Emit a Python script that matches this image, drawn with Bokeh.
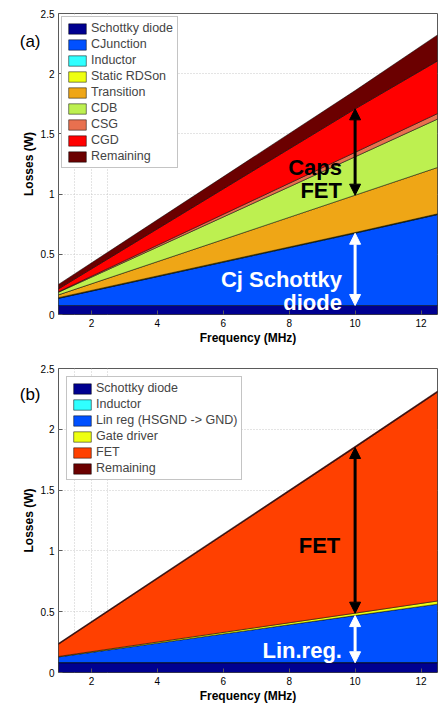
import numpy as np
from bokeh.plotting import figure
from bokeh.models import Range1d, FixedTicker, Label, Arrow, NormalHead, LinearAxis
from bokeh.layouts import column
from bokeh.embed import file_html
from bokeh.resources import INLINE

# ---------------- data ----------------
freq = [1, 10, 12.5]  # MHz

# panel (a): stacked losses (W), bottom to top
a_labels = ["Schottky diode", "CJunction", "Inductor", "Static RDSon", "Transition",
            "CDB", "CSG", "CGD", "Remaining"]
a_schottky = [0.075, 0.075, 0.075]
a_cjunction = [0.059, 0.600, 0.755]
a_inductor = [0.003, 0.003, 0.003]
a_rdson = [0.003, 0.003, 0.003]
a_transition = [0.023, 0.310, 0.385]
a_cdb = [0.022, 0.319, 0.402]
a_csg = [0.004, 0.037, 0.046]
a_cgd = [0.024, 0.361, 0.437]
a_remaining = [0.037, 0.152, 0.216]
a_colors = ["#000090", "#0050FF", "#30FFFF", "#EEFF10", "#EFA616",
            "#BDF050", "#E8704F", "#FF0000", "#6B0000"]

# panel (b)
b_labels = ["Schottky diode", "Inductor", "Lin reg (HSGND -> GND)", "Gate driver", "FET", "Remaining"]
b_schottky = [0.080, 0.080, 0.080]
b_inductor = [0.002, 0.002, 0.002]
b_linreg = [0.046, 0.386, 0.480]
b_gatedriver = [0.004, 0.020, 0.026]
b_fet = [0.100, 1.362, 1.717]
b_remaining = [0.008, 0.010, 0.010]
b_colors = ["#000090", "#30FFFF", "#0050FF", "#EEFF10", "#FF4000", "#6B0000"]

x_ticks = [2, 4, 6, 8, 10, 12]
y_ticks = [0, 0.5, 1, 1.5, 2, 2.5]
y_tick_labels = ["0", "0.5", "1", "1.5", "2", "2.5"]

FONT = "Liberation Sans"
FRAME = "#5a5a5a"


def make_fig(layers, labels, colors, frame_h, top_b, bottom_b, legend_margin):
    p = figure(frame_width=379, frame_height=frame_h, output_backend="svg",
               toolbar_location=None, x_range=Range1d(1, 12.5), y_range=Range1d(0, 2.5),
               min_border_left=58, min_border_right=1, min_border_top=top_b,
               min_border_bottom=bottom_b)
    p.outline_line_color = FRAME
    p.outline_line_width = 1
    p.background_fill_color = "white"
    p.border_fill_color = "white"

    x = np.array(freq, dtype=float)
    bottom = np.zeros_like(x)
    for vals, lab, col in zip(layers, labels, colors):
        top = bottom + np.array(vals, dtype=float)
        xs = list(x) + list(x[::-1])
        ys = list(top) + list(bottom[::-1])
        p.patch(xs, ys, fill_color=col, line_color="black", line_width=0.5,
                legend_label=lab)
        bottom = top

    p.xaxis.ticker = FixedTicker(ticks=x_ticks)
    p.yaxis.ticker = FixedTicker(ticks=y_ticks)
    p.yaxis.major_label_overrides = {t: l for t, l in zip(y_ticks, y_tick_labels)}
    for ax in (p.xaxis, p.yaxis):
        ax.axis_line_color = None
        ax.major_tick_in = 4
        ax.major_tick_out = 0
        ax.major_tick_line_color = FRAME
        ax.minor_tick_line_color = None
        ax.major_label_text_font = FONT
        ax.major_label_text_font_size = "10px"
        ax.major_label_text_color = "black"
        ax.axis_label_text_font = FONT
        ax.axis_label_text_font_size = "12px"
        ax.axis_label_text_font_style = "bold"
        ax.axis_label_text_color = "black"
    p.xaxis.major_label_standoff = 4
    p.xaxis.axis_label_standoff = 1
    p.yaxis.major_label_standoff = 4
    p.yaxis.axis_label_standoff = 2
    p.xaxis.axis_label = "Frequency (MHz)"
    p.yaxis.axis_label = "Losses (W)"

    for g in (p.xgrid, p.ygrid):
        g.ticker = FixedTicker(ticks=x_ticks if g is p.xgrid else y_ticks)
        g.grid_line_color = "#c8c8c8"
        g.grid_line_dash = "1 2"
        g.grid_line_width = 1

    lg = p.legend[0]
    lg.location = "top_left"
    lg.margin = legend_margin
    lg.padding = 4
    lg.spacing = 2
    lg.glyph_width = 22
    lg.glyph_height = 13
    lg.label_height = 13
    lg.label_standoff = 3
    lg.label_text_font = FONT
    lg.label_text_font_size = "12.5px"
    lg.border_line_color = "#8a8a8a"
    lg.border_line_width = 1
    lg.background_fill_alpha = 1
    return p


def cum_at(layers, n_layers, idx):
    return sum(layer[idx] for layer in layers[:n_layers])


def add_arrow(p, x, y0, y1, color):
    p.add_layout(Arrow(x_start=x, y_start=y0, x_end=x, y_end=y1, line_color=color, line_width=3,
                       start=NormalHead(size=11, fill_color=color, line_color=color),
                       end=NormalHead(size=11, fill_color=color, line_color=color)))


def add_text(p, x, y, text, color, size="22px", style="bold", align="right"):
    p.add_layout(Label(x=x, y=y, text=text, text_color=color, text_font=FONT,
                       text_font_size=size, text_font_style=style, text_align=align,
                       text_baseline="alphabetic"))


def add_panel_tag(p, y, text):
    # panel tag drawn as the single label of an extra, line-less left axis
    tag = LinearAxis(ticker=FixedTicker(ticks=[y]), major_label_overrides={y: text},
                     axis_line_color=None, major_tick_line_color=None,
                     minor_tick_line_color=None, major_tick_in=0, major_tick_out=0,
                     major_label_standoff=-22, major_label_text_font=FONT,
                     major_label_text_font_size="17px", major_label_text_color="black")
    p.add_layout(tag, "left")


# ---------------- panel (a) ----------------
layers_a = [a_schottky, a_cjunction, a_inductor, a_rdson, a_transition, a_cdb, a_csg, a_cgd, a_remaining]
pa = make_fig(layers_a, a_labels, a_colors, frame_h=301, top_b=13, bottom_b=36, legend_margin=3)
i10 = freq.index(10)
add_arrow(pa, 10, cum_at(layers_a, 5, i10), cum_at(layers_a, 8, i10), "black")
add_arrow(pa, 10, cum_at(layers_a, 1, i10), cum_at(layers_a, 2, i10), "white")
add_text(pa, 9.6, 1.22, "Caps", "black")
add_text(pa, 9.6, 1.03, "FET", "black")
add_text(pa, 9.6, 0.288, "Cj Schottky", "white")
add_text(pa, 9.6, 0.102, "diode", "white")
add_panel_tag(pa, 2.27, "(a)")

# ---------------- panel (b) ----------------
layers_b = [b_schottky, b_inductor, b_linreg, b_gatedriver, b_fet, b_remaining]
pb = make_fig(layers_b, b_labels, b_colors, frame_h=304, top_b=18, bottom_b=28, legend_margin=8)
add_arrow(pb, 10, cum_at(layers_b, 4, i10), cum_at(layers_b, 5, i10), "black")
add_arrow(pb, 10, cum_at(layers_b, 1, i10), cum_at(layers_b, 3, i10), "white")
add_text(pb, 9.55, 1.047, "FET", "black")
add_text(pb, 9.6, 0.178, "Lin.reg.", "white")
add_panel_tag(pb, 2.29, "(b)")

layout = column(pa, pb, spacing=0)
open("out.html", "w").write(file_html(layout, INLINE))
